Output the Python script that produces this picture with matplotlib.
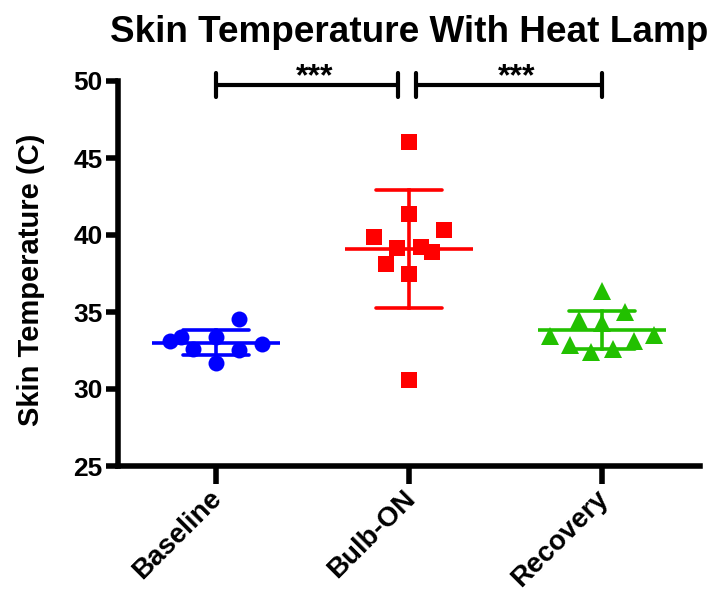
import numpy as np
import matplotlib
matplotlib.use("Agg")
import matplotlib.pyplot as plt

plt.rcParams['font.family'] = ['Liberation Sans', 'DejaVu Sans']
plt.rcParams['font.weight'] = 'bold'

categories = ["Baseline", "Bulb-ON", "Recovery"]
baseline = [33.14, 33.36, 33.40, 34.55, 32.92, 32.58, 32.53, 31.67]
baseline_jitter = [-0.24, -0.18, 0.0, 0.12, 0.24, -0.12, 0.12, 0.0]
bulb_on = [46.06, 41.34, 39.85, 40.32, 39.14, 39.24, 38.92, 38.12, 37.45, 30.58]
bulb_on_jitter = [0.0, 0.0, -0.18, 0.18, -0.06, 0.06, 0.12, -0.12, 0.0, 0.0]
recovery = [36.38, 35.02, 34.48, 34.27, 33.44, 33.50, 32.86, 33.12, 32.42, 32.60]
recovery_jitter = [0.0, 0.12, -0.12, 0.0, -0.27, 0.27, -0.165, 0.165, -0.055, 0.055]
yticks = [25, 30, 35, 40, 45, 50]
comparisons = [(0, 1, "***"), (1, 2, "***")]

groups = [baseline, bulb_on, recovery]
jitters = [baseline_jitter, bulb_on_jitter, recovery_jitter]
colors = ["#0000FF", "#FF0000", "#22C000"]
markers = ["o", "s", "^"]

fig = plt.figure(figsize=(7.14, 5.93), dpi=100)
ax = fig.add_axes([118/714, 1-466/593, (700-118)/714, (466-81)/593])

for i, (vals, jit, c, m) in enumerate(zip(groups, jitters, colors, markers)):
    vals = np.array(vals)
    xs = i + np.array(jit)
    ax.plot(xs, vals, linestyle='none', marker=m, color=c, markersize=11.5 if m != '^' else 13,
            markeredgewidth=0, zorder=3, clip_on=False)
    mean = vals.mean()
    sd = vals.std(ddof=1)
    ax.plot([i - 0.33, i + 0.33], [mean, mean], color=c, lw=2.6, solid_capstyle='butt', zorder=2)
    ax.plot([i, i], [mean - sd, mean + sd], color=c, lw=2.6, zorder=2)
    for yv in (mean - sd, mean + sd):
        ax.plot([i - 0.17, i + 0.17], [yv, yv], color=c, lw=2.6, solid_capstyle='round', zorder=2)

ybr = 49.74
for a, b, lab in comparisons:
    x0 = a + (0.035 if a > 0 else 0.0)
    x1 = b - (0.057 if b == 1 else 0.0)
    ax.plot([x0, x1], [ybr, ybr], color='black', lw=3, clip_on=False, solid_capstyle='butt')
    for xv in (x0, x1):
        ax.plot([xv, xv], [ybr - 0.8, ybr + 0.8], color='black', lw=3, clip_on=False,
                solid_capstyle='round')
    ax.text((x0 + x1) / 2 + 0.04, ybr - 0.45, lab, ha='center', va='bottom', fontsize=23,
            fontweight='bold', clip_on=False)

ax.set_xlim(-0.508, 2.508)
ax.set_ylim(25, 50)
ax.set_yticks(yticks)
ax.set_yticklabels([str(t) for t in yticks], fontsize=19, fontweight='bold')
ax.set_xticks(range(len(categories)))
ax.set_xticklabels(categories, rotation=45, ha='right', va='center_baseline',
                   rotation_mode='anchor', fontsize=20, fontweight='bold')
for s in ['top', 'right']:
    ax.spines[s].set_visible(False)
for s in ['left', 'bottom']:
    ax.spines[s].set_linewidth(4)
ax.tick_params(axis='y', width=4, length=9, pad=2)
ax.tick_params(axis='x', width=4, length=13, pad=6)
ax.set_ylabel("Skin Temperature (C)", fontsize=21, fontweight='bold')
ax.yaxis.set_label_coords(-0.125, 0.483)
ax.set_title("Skin Temperature With Heat Lamp", fontsize=26.6, fontweight='bold', pad=28)

fig.savefig("out.png", dpi=100)
